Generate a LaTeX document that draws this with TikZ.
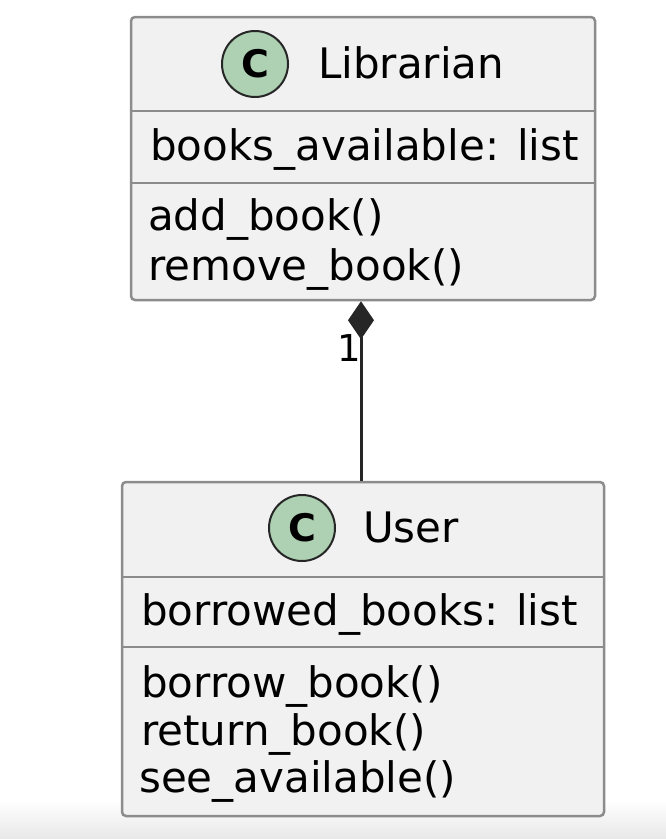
\documentclass[tikz,border=0pt]{standalone}
\usepackage{fontspec}
\setmainfont{DejaVu Sans}
\usetikzlibrary{arrows.meta}

\definecolor{boxfill}{RGB}{241,241,241}
\definecolor{boxline}{RGB}{140,140,140}
\definecolor{spotfill}{RGB}{173,209,178}
\definecolor{shadowgray}{RGB}{232,232,232}

\begin{document}
\begin{tikzpicture}[x = 1pt, y = -1pt]
\tikzstyle{classStyle} = [draw = boxline, fill = boxfill, line width = 2.5pt, rounded corners = 4pt, inner sep = 0pt]
\tikzstyle{sepStyle} = [draw = boxline, line width = 2.5pt]
\tikzstyle{spotStyle} = [shape = circle, minimum size = 66pt, inner sep = 0pt, draw = black!85, line width = 2pt, fill = spotfill, font = \fontsize{38}{38}\selectfont\bfseries]
\tikzstyle{textStyle} = [anchor = base west, inner sep = 0pt, font = \fontsize{42}{50}\selectfont]
\tikzstyle{multStyle} = [inner sep = 0pt, font = \fontsize{37}{40}\selectfont]
\tikzstyle{edgeStyle} = [draw = black!85, line width = 3pt, -{Diamond[length = 38pt, width = 26pt]}]
\useasboundingbox (0,0) rectangle (666,839);
\shade[top color = white, bottom color = shadowgray] (0,800) rectangle (666,839);
% Librarian
\node[classStyle, minimum width = 464pt, minimum height = 283pt] (lib) at (363,158.5) {};
\node[spotStyle] (libspot) at (255,64) {C};
\node[textStyle] (libname) at (318,78) {Librarian};
\draw[sepStyle] (lib.west |- 0,111) -- (lib.east |- 0,111);
\node[textStyle] (libattr) at (150,160) {books\_available: list};
\draw[sepStyle] (lib.west |- 0,183) -- (lib.east |- 0,183);
\node[textStyle] (libop1) at (148,230) {add\_book()};
\node[textStyle] (libop2) at (148,280) {remove\_book()};
% User
\node[classStyle, minimum width = 482pt, minimum height = 334pt] (user) at (363,649) {};
\node[spotStyle] (userspot) at (302,528) {C};
\node[textStyle] (username) at (363,542) {User};
\draw[sepStyle] (user.west |- 0,577) -- (user.east |- 0,577);
\node[textStyle] (userattr) at (141,625) {borrowed\_books: list};
\draw[sepStyle] (user.west |- 0,647) -- (user.east |- 0,647);
\node[textStyle] (userop1) at (141,697) {borrow\_book()};
\node[textStyle] (userop2) at (141,745) {return\_book()};
\node[textStyle] (userop3) at (139,792) {see\_available()};
% composition
\draw[edgeStyle] ([xshift = -2pt]user.north) -- ([xshift = -2pt]lib.south);
\node[multStyle] (mult) at (349,348) {1};
\end{tikzpicture}
\end{document}
